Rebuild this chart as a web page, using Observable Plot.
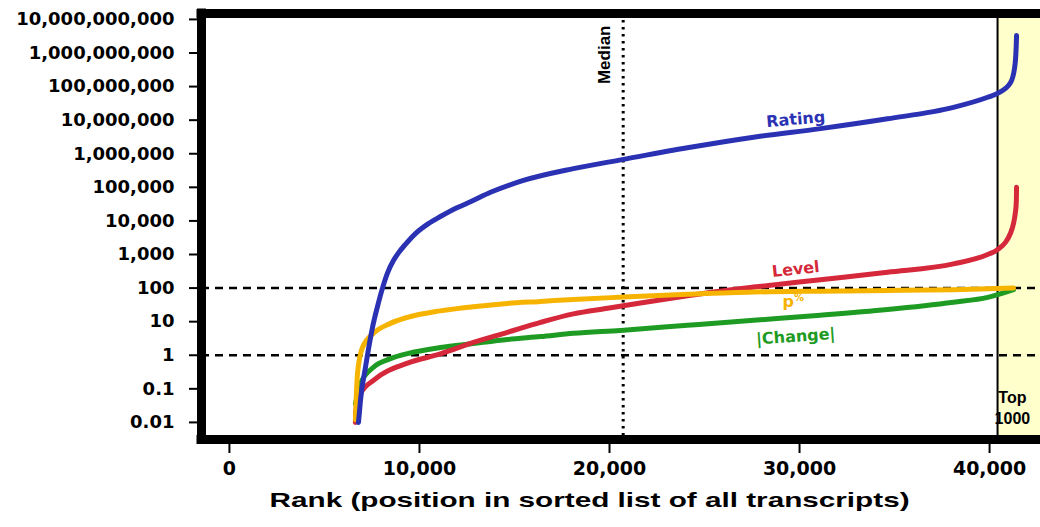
<!DOCTYPE html>
<html>
<head>
<meta charset="utf-8">
<script src="https://cdn.jsdelivr.net/npm/d3@7"></script>
<script src="https://cdn.jsdelivr.net/npm/@observablehq/plot@0.6"></script>
<style>
  html, body { margin: 0; padding: 0; background: white; }
</style>
</head>
<body>
<div id="chart"></div>
<script>
// ---- Data ----
const xMin = -1470, xMax = 42680;
const yMin = 0.0031, yMax = 1.5e10;

const yTicks = [0.01, 0.1, 1, 10, 100, 1000, 1e4, 1e5, 1e6, 1e7, 1e8, 1e9, 1e10];
const xTicks = [0, 10000, 20000, 30000, 40000];

const medianRank = 20720;
const top1000Rank = 40420;
const refLines = [1, 100];

const ratingRank  = [6790, 6840, 6895, 7160, 7530, 7790, 8050, 8315, 8630, 8895, 9260, 9790, 10470, 11105, 12000, 12684, 13740, 15470, 18100, 20740, 24100, 27580, 31100, 34630, 38100, 39900, 40420, 41100, 41320, 41400, 41420];
const ratingValue = [0.01, 0.02, 0.045, 0.44, 6.8, 28, 98, 280, 660, 1120, 2000, 4200, 8300, 13500, 25000, 37000, 71000, 160000, 360000, 680000, 1.5e6, 3.1e6, 5.6e6, 1.1e7, 2.4e7, 4.8e7, 6.3e7, 1.3e8, 3.7e8, 1.5e9, 3.3e9];

const levelRank  = [6630, 6640, 6900, 7580, 9370, 11100, 12840, 14630, 16370, 18100, 19900, 21630, 24100, 26400, 27580, 31100, 34630, 38100, 39900, 40420, 41100, 41370, 41410, 41420];
const levelValue = [0.01, 0.019, 0.072, 0.18, 0.58, 1.1, 2.4, 4.8, 9.5, 17, 25, 36, 59, 89, 107, 178, 295, 525, 1000, 1400, 4300, 20000, 41000, 100000];

const pRank  = [6630, 6740, 7000, 7580, 8470, 9370, 11100, 12840, 14630, 16370, 18100, 20740, 24100, 27580, 31100, 34630, 38100, 41260];
const pValue = [0.012, 0.29, 1.7, 4.5, 8.9, 13.5, 21, 28, 35, 40, 46, 54, 65, 76, 81, 85, 89, 100];

const changeRank  = [6630, 6900, 7580, 8470, 9370, 11100, 12840, 14630, 16370, 18100, 20580, 24100, 27580, 31100, 34630, 38100, 39900, 41260];
const changeValue = [0.036, 0.145, 0.44, 0.79, 1.12, 1.7, 2.24, 2.95, 3.6, 4.5, 5.5, 7.8, 11, 15.5, 23, 38, 53, 90];

const labelText  = ["Rating", "Level", "p", "|Change|"];
const labelRank  = [29800, 29800, 29400, 29800];
const labelValue = [1.05e7, 360, 40, 3.6];
const labelAngle = [-5, -6, 0, -4];

const xTitle = "Rank (position in sorted list of all transcripts)";
const xTitleRank = 18950;

const colors = { rating: "#2a32b3", level: "#d5283a", p: "#f6b300", change: "#1e9b22" };

const toRows = (rs, vs) => rs.map((r, i) => ({ rank: r, value: vs[i] }));
const yFormat = d => d < 1 ? String(d) : d3.format(",")(d);
const arial = "'Liberation Sans', Arial, sans-serif";

const chart = Plot.plot({
  width: 1040,
  height: 527,
  marginLeft: 201,
  marginRight: 0,
  marginTop: 13,
  marginBottom: 88,
  style: { fontFamily: "'DejaVu Sans', sans-serif", fontWeight: "bold", fontSize: "18px", color: "black", background: "white", overflow: "visible" },
  x: { domain: [xMin, xMax] },
  y: { type: "log", domain: [yMin, yMax] },
  marks: [
    Plot.rect([top1000Rank], { x1: d => d, x2: () => xMax, fill: "#ffffcc" }),
    Plot.text(["Top\n1000"], { x: () => 41200, y: () => 0.029, fontSize: 16, fontWeight: "bold", fill: "black", lineHeight: 1.3, fontFamily: arial }),
    Plot.ruleX([top1000Rank], { stroke: "black", strokeWidth: 2 }),
    Plot.ruleX([medianRank], { stroke: "black", strokeWidth: 3, strokeDasharray: "2.5,4.5" }),
    Plot.text(["Median"], { x: () => medianRank, frameAnchor: "top", dy: 12, dx: -25, rotate: -90, textAnchor: "end", fontSize: 17, fontWeight: "bold", fill: "black", fontFamily: arial }),
    Plot.ruleY(refLines, { stroke: "black", strokeWidth: 2.5, strokeDasharray: "8,6" }),
    Plot.line(toRows(changeRank, changeValue), { x: "rank", y: "value", stroke: colors.change, strokeWidth: 5, curve: "monotone-x" }),
    Plot.line(toRows(levelRank, levelValue), { x: "rank", y: "value", stroke: colors.level, strokeWidth: 5, curve: "monotone-x" }),
    Plot.line(toRows(pRank, pValue), { x: "rank", y: "value", stroke: colors.p, strokeWidth: 5, curve: "monotone-x" }),
    Plot.line(toRows(ratingRank, ratingValue), { x: "rank", y: "value", stroke: colors.rating, strokeWidth: 5, curve: "monotone-x" }),
    Plot.text([0], { x: () => labelRank[0], y: () => labelValue[0], text: () => labelText[0], rotate: labelAngle[0], fill: colors.rating, fontSize: 16, fontWeight: "bold" }),
    Plot.text([1], { x: () => labelRank[1], y: () => labelValue[1], text: () => labelText[1], rotate: labelAngle[1], fill: colors.level, fontSize: 16, fontWeight: "bold" }),
    Plot.text([2], { x: () => labelRank[2], y: () => labelValue[2], text: () => labelText[2], rotate: labelAngle[2], fill: colors.p, fontSize: 16, fontWeight: "bold" }),
    Plot.text([2], { x: () => labelRank[2], y: () => labelValue[2], text: () => "%", dx: 11, dy: -4, fill: colors.p, fontSize: 10, fontWeight: "bold" }),
    Plot.text([3], { x: () => labelRank[3], y: () => labelValue[3], text: () => labelText[3], rotate: labelAngle[3], fill: colors.change, fontSize: 16, fontWeight: "bold" }),
    Plot.axisY({ ticks: yTicks, tickFormat: yFormat, tickSize: 12, tickPadding: 15, strokeWidth: 2, fontSize: 18, label: null }),
    Plot.axisX({ ticks: xTicks, tickFormat: d3.format(","), tickSize: 14, tickPadding: 8, strokeWidth: 2, fontSize: 19, label: null }),
    Plot.ruleX([xMin], { stroke: "black", strokeWidth: 9, strokeLinecap: "square" }),
    Plot.ruleY([yMin, yMax], { stroke: "black", strokeWidth: 9, strokeLinecap: "square" }),
    Plot.text([xTitle], { x: () => xTitleRank, frameAnchor: "bottom", dy: 67, fontSize: 21, fontWeight: "bold", fill: "black", fontFamily: arial })
  ]
});
document.getElementById("chart").appendChild(chart);
// stretch the axis title horizontally like the reference
for (const t of chart.querySelectorAll("text")) {
  if (t.textContent === xTitle) {
    t.setAttribute("textLength", 640);
    t.setAttribute("lengthAdjust", "spacingAndGlyphs");
  }
}
</script>
</body>
</html>
